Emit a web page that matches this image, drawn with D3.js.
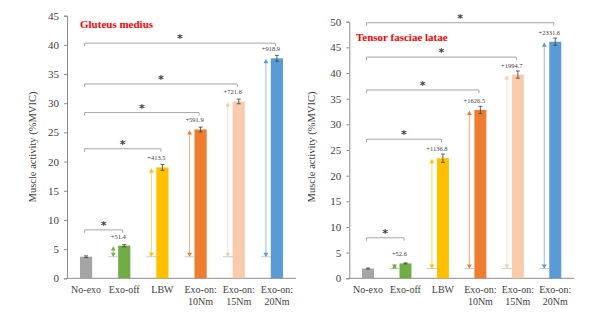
<!DOCTYPE html>
<html><head><meta charset="utf-8">
<script src="https://cdn.jsdelivr.net/npm/d3@7"></script>
<style>body{margin:0;background:#fff}svg{display:block}</style>
</head><body><svg id="c" width="600" height="324"></svg>
<script>
const categories = ["No-exo","Exo-off","LBW","Exo-on:|10Nm","Exo-on:|15Nm","Exo-on:|20Nm"];
const colors = ["#a5a5a5","#70ad47","#ffc000","#ed7d31","#f8cbad","#5b9bd5"];
const gmValues = [3.7, 5.6, 19.0, 25.5, 30.3, 37.7];
const gmErrors = [0.15, 0.2, 0.5, 0.4, 0.4, 0.5];
const gmPct = ["", "+51.4", "+413.5", "+591.9", "+721.6", "+918.9"];
const gmBrackets = [8.3, 22.2, 28.4, 33.3, 40.3];
const gmTicks = [0,5,10,15,20,25,30,35,40,45];
const tflValues = [1.9, 2.9, 23.4, 32.8, 39.7, 46.1];
const tflErrors = [0.1, 0.1, 0.8, 0.7, 0.7, 0.7];
const tflPct = ["", "+52.6", "+1136.8", "+1626.5", "+1994.7", "+2331.6"];
const tflBrackets = [7.9, 27.1, 36.7, 43.1, 49.8];
const tflTicks = [0,5,10,15,20,25,30,35,40,45,50];

const svg = d3.select("#c");
const font = "'Liberation Serif','Times New Roman',serif";

function chart(opt){
  const g = svg.append("g");
  const x = d3.scaleBand().domain(categories).range([opt.x0, opt.x1]).paddingInner(0.68).paddingOuter(0.34);
  const y = d3.scaleLinear().domain([0, opt.ymax]).range([278.3, opt.ytop]);
  const cx = c => x(c) + x.bandwidth()/2;
  const ya = g.append("g").attr("transform",`translate(${opt.x0},0)`)
    .call(d3.axisLeft(y).tickValues(opt.ticks).tickSize(3).tickPadding(5));
  ya.select(".domain").attr("stroke","#8c8c8c");
  ya.selectAll(".tick line").attr("stroke","#8c8c8c");
  ya.selectAll("text").attr("font-family",font).attr("font-size",11).attr("fill","#404040");
  g.append("line").attr("x1",opt.x0).attr("x2",opt.x1).attr("y1",y(0)).attr("y2",y(0)).attr("stroke","#8c8c8c");
  const xl = g.selectAll(".xl").data(categories).join("text")
    .attr("x",d=>cx(d)).attr("y",293).attr("text-anchor","middle")
    .attr("font-family",font).attr("font-size",10).attr("fill","#404040");
  xl.each(function(d){
    const parts=d.split("|");
    parts.forEach((p,i)=>d3.select(this).append("tspan").attr("x",cx(d)).attr("dy",i?12:0).text(p));
  });
  g.append("text").attr("transform",`translate(${opt.ylx},147) rotate(-90)`).attr("text-anchor","middle")
    .attr("font-family",font).attr("font-size",10.5).attr("fill","#404040").text("Muscle activity (%MVIC)");
  g.append("text").attr("x",opt.tx).attr("y",opt.ty).attr("font-family",font).attr("font-weight","bold")
    .attr("font-size",11).attr("fill","#ff0000").text(opt.title);
  g.selectAll(".bar").data(opt.values).join("rect")
    .attr("x",(d,i)=>x(categories[i])).attr("width",x.bandwidth())
    .attr("y",d=>y(d)).attr("height",d=>y(0)-y(d)).attr("fill",(d,i)=>colors[i]);
  opt.values.forEach((v,i)=>{
    const c=cx(categories[i]), e=opt.errors[i];
    g.append("line").attr("x1",c).attr("x2",c).attr("y1",y(v+e)).attr("y2",y(v-e)).attr("stroke","#404040").attr("stroke-width",0.8);
    [v+e,v-e].forEach(t=>g.append("line").attr("x1",c-2).attr("x2",c+2).attr("y1",y(t)).attr("y2",y(t)).attr("stroke","#404040").attr("stroke-width",0.8));
  });
  const base = opt.values[0];
  opt.values.forEach((v,i)=>{
    if(i===0) return;
    const ax = cx(categories[i]) - 11, col = colors[i];
    const yt = y(v)+1, yb = y(base);
    g.append("line").attr("x1",ax).attr("x2",ax).attr("y1",yt).attr("y2",yb).attr("stroke",col).attr("stroke-width",0.8).attr("opacity",0.8);
    g.append("line").attr("x1",ax-5).attr("x2",ax+5).attr("y1",yb).attr("y2",yb).attr("stroke","#bfbfbf").attr("stroke-width",0.8);
    g.append("path").attr("d",`M${ax-2.5},${yt+4}L${ax+2.5},${yt+4}L${ax},${yt}Z`).attr("fill",col);
    g.append("path").attr("d",`M${ax-2.5},${yb-4}L${ax+2.5},${yb-4}L${ax},${yb}Z`).attr("fill",col);
    g.append("text").attr("x",cx(categories[i])-6).attr("y",y(v)-7).attr("text-anchor","middle")
      .attr("font-family",font).attr("font-size",6.5).attr("fill","#404040").text(opt.pct[i]);
  });
  opt.brackets.forEach((b,i)=>{
    const x1 = cx(categories[0])-1.5, x2 = cx(categories[i+1])-1.5, yy = y(b);
    g.append("path").attr("d",`M${x1},${yy+3}V${yy}H${x2}V${yy+3}`).attr("fill","none").attr("stroke","#a6a6a6").attr("stroke-width",1);
    g.append("text").attr("x",(x1+x2)/2).attr("y",yy-1).attr("text-anchor","middle").attr("opacity",0.99)
      .attr("font-family","'DejaVu Sans',sans-serif").attr("font-weight","bold").attr("font-size",11).attr("fill","#404040").text("*");
  });
}

chart({x0:67,x1:296,ymax:45,ytop:15.7,ticks:gmTicks,values:gmValues,errors:gmErrors,pct:gmPct,brackets:gmBrackets,
  title:"Gluteus medius",tx:80,ty:28,ylx:36});
chart({x0:349.3,x1:574,ymax:50,ytop:21.7,ticks:tflTicks,values:tflValues,errors:tflErrors,pct:tflPct,brackets:tflBrackets,
  title:"Tensor fasciae latae",tx:356,ty:41,ylx:315});
</script></body></html>
